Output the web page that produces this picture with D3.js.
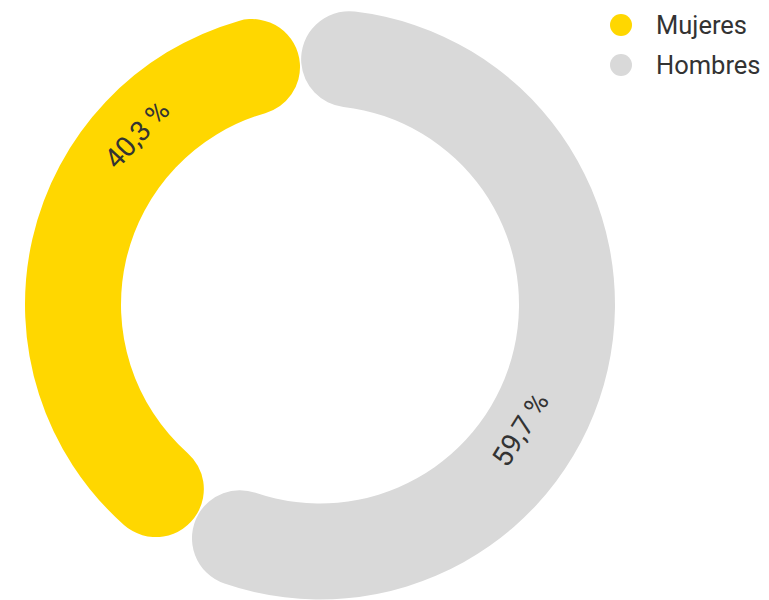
<!DOCTYPE html>
<html>
<head>
<meta charset="utf-8">
<script src="https://cdn.jsdelivr.net/npm/d3@7"></script>
<style>
  html, body { margin: 0; padding: 0; background: #fff; }
  svg { display: block; font-family: Roboto, "Noto Sans", sans-serif; }
</style>
</head>
<body>
<svg id="chart" width="769" height="600"></svg>
<script>
const categories = ["Mujeres", "Hombres"];
const values = [40.3, 59.7];
const valueLabels = ["40,3 %", "59,7 %"];
const colors = ["#FFD700", "#D9D9D9"];

const W = 769, H = 600;
const cx = 320, cy = 304.5;
const outerR = 295, innerR = 199;
const rot = -4.6 * Math.PI / 180;

const svg = d3.select("#chart");
const data = categories.map((c, i) => ({ cat: c, value: values[i], label: valueLabels[i], color: colors[i] }));

const pie = d3.pie()
  .value(d => d.value)
  .sort((a, b) => b.value - a.value)
  .startAngle(rot)
  .endAngle(rot + 2 * Math.PI)
  .padAngle(0.004);

const arcs = pie(data);
const arc = d3.arc()
  .innerRadius(innerR)
  .outerRadius(outerR)
  .cornerRadius((outerR - innerR) / 2);

const g = svg.append("g").attr("transform", `translate(${cx},${cy})`);
g.selectAll("path.slice")
  .data(arcs)
  .join("path")
  .attr("class", "slice")
  .attr("d", arc)
  .attr("fill", d => d.data.color);

// label placement (fraction along slice, radius)
const labelFrac = { Mujeres: 0.707, Hombres: 0.589 };
const labelRad = { Mujeres: 250, Hombres: 236 };
arcs.forEach(d => {
  const f = labelFrac[d.data.cat];
  const r = labelRad[d.data.cat];
  const a = d.startAngle + (d.endAngle - d.startAngle) * f;
  const x = r * Math.sin(a), y = -r * Math.cos(a);
  let deg = a * 180 / Math.PI - 180;
  while (deg > 90) deg -= 180;
  while (deg <= -90) deg += 180;
  g.append("text")
    .attr("transform", "translate(" + x.toFixed(2) + "," + y.toFixed(2) + ") rotate(" + deg.toFixed(2) + ")")
    .attr("text-anchor", "middle")
    .attr("dy", "0.35em")
    .attr("font-size", 28)
    .attr("fill", "#333333")
    .text(d.data.label);
});

// legend
const legend = svg.append("g").attr("transform", "translate(621,25)");
data.forEach((d, i) => {
  const it = legend.append("g").attr("transform", `translate(0,${i * 40})`);
  it.append("circle").attr("r", 11).attr("fill", d.color);
  it.append("text")
    .attr("x", 35)
    .attr("y", 9.3)
    .attr("font-size", 25.5)
    .attr("fill", "#333")
    .text(d.cat);
});
</script>
</body>
</html>
